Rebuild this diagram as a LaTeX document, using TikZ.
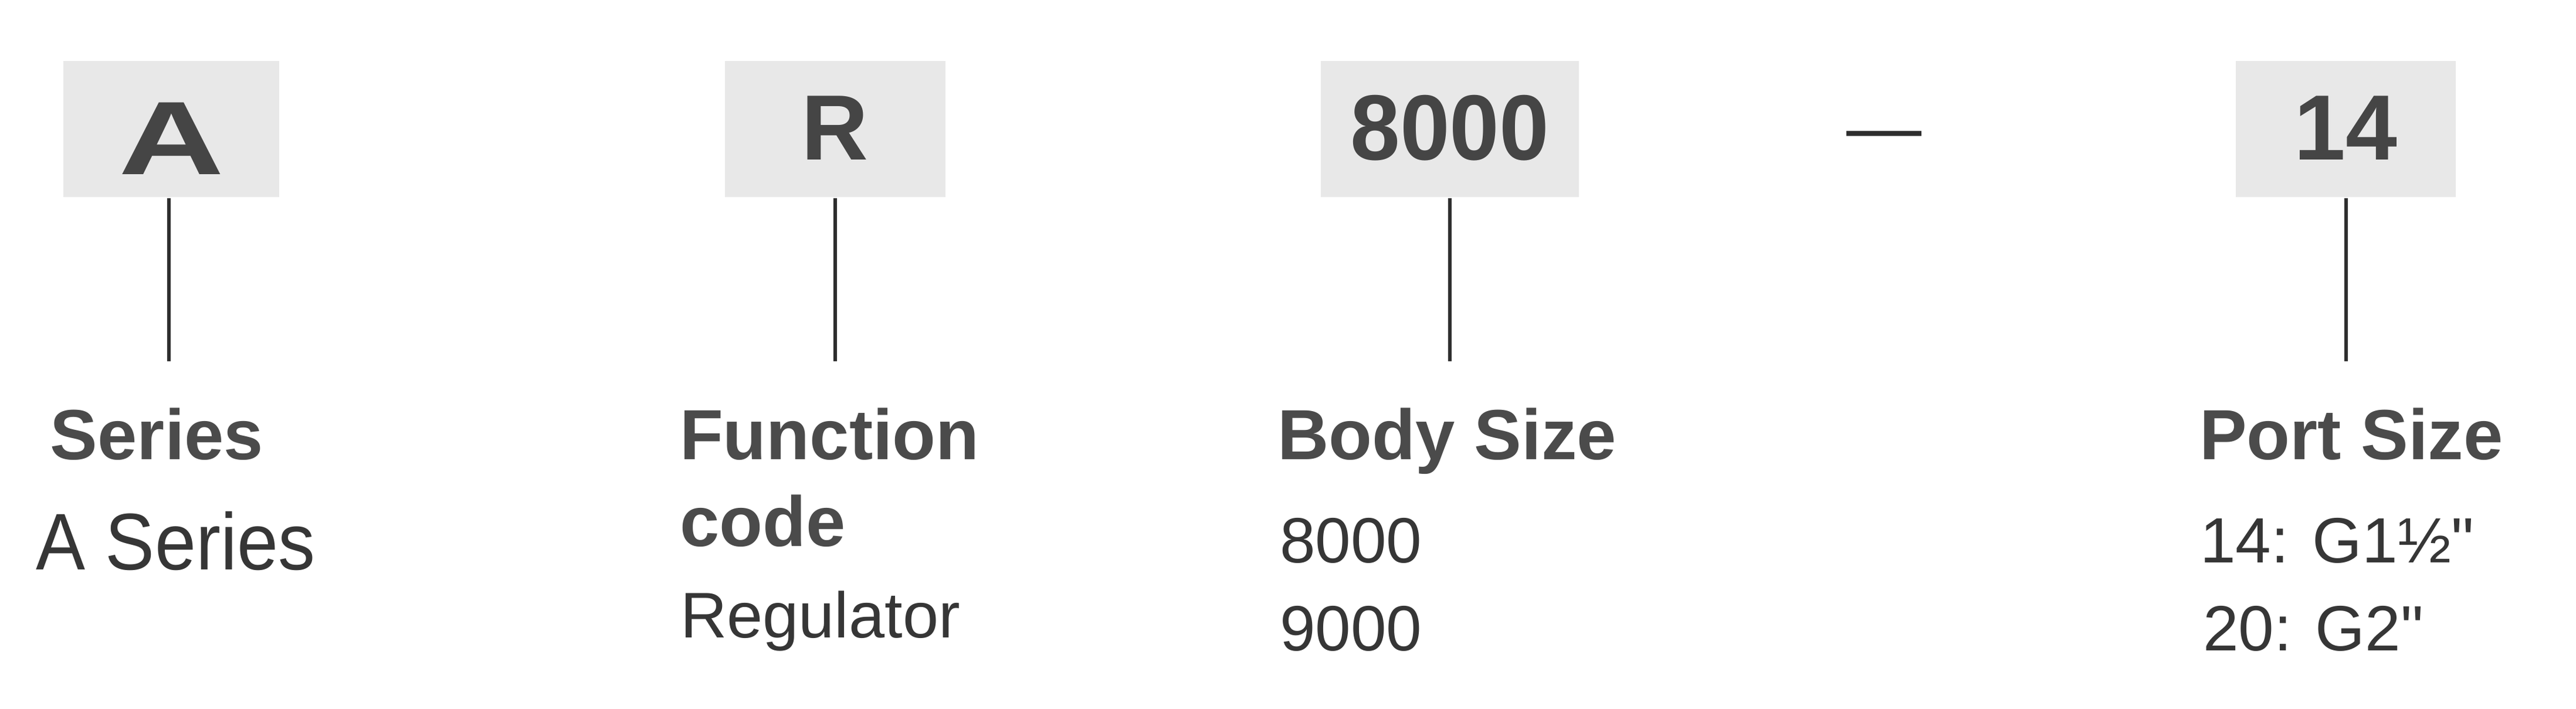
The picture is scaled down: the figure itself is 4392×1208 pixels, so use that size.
\documentclass[tikz,border=0pt]{standalone}
\usepackage{fontspec}
\setmainfont{Liberation Sans}[Ligatures=TeXOff]
\usepackage{graphicx}
\definecolor{boxgray}{HTML}{E8E8E8}
\definecolor{boxtext}{HTML}{454545}
\definecolor{headtext}{HTML}{4B4B4B}
\definecolor{valtext}{HTML}{363636}
\definecolor{stemcol}{HTML}{2E2E2E}
\begin{document}
\begin{tikzpicture}[x=0.1pt,y=-0.1pt,
  codebox/.style={fill=boxgray, draw=none, inner sep=0pt, minimum height=23.2pt,
    text height=11.6pt, text depth=1.2pt, text=boxtext,
    font=\fontsize{15.8}{18}\selectfont\bfseries},
  head/.style={anchor=base west, inner sep=0pt, text=headtext, align=left,
    font=\fontsize{12.1}{14.8}\selectfont\bfseries},
  val/.style={anchor=base west, inner sep=0pt, text=valtext,
    font=\fontsize{10.9}{15}\selectfont},
  stem/.style={line width=0.65pt, draw=stemcol}]
\useasboundingbox[fill=white] (0,0) rectangle (4392,1208);

% code boxes
\node[codebox, minimum width=36.8pt, text height=16pt, text depth=0.6pt,
      font=\fontsize{17.8}{20}\selectfont\bfseries] (bA) at (292,220)
      {\scalebox{1.4}[1]{A}\hspace{5.2pt}};
\node[codebox, minimum width=37.6pt] (bR) at (1424,220) {R};
\node[codebox, minimum width=44pt] (b8) at (2472,220) {\scalebox{0.965}[1]{8000}};
\node[codebox, minimum width=37.5pt] (b14) at (3999.5,220) {14\hspace{1.4pt}};

% separator dash
\node[anchor=base, inner sep=0pt, text=stemcol, font=\fontsize{12.8}{15}\selectfont] (dash) at (3212,260) {—};

% stems
\coordinate (eA) at (288,616);
\coordinate (eR) at (1424,616);
\coordinate (e8) at (2472,616);
\coordinate (e14) at (4000,616);
\draw[stem] (bA.south -| eA) -- (eA);
\draw[stem] (bR.south -| eR) -- (eR);
\draw[stem] (b8.south -| e8) -- (e8);
\draw[stem] (b14.south -| e14) -- (e14);

% headings
\node[head] (hS) at (84,783) {Series};
\node[head] (hF) at (1157,931) {Function\\code};
\node[head] (hB) at (2176,783) {Body Size};
\node[head] (hP) at (3748,783) {Port Size};

% values
\node[val, font=\fontsize{13.7}{16}\selectfont] (vS) at (59,971) {\scalebox{0.92}[1]{A Series}};
\node[val, font=\fontsize{11}{14}\selectfont] (vF) at (1158,1087) {Regulator};
\node[val] (vB1) at (2180,959) {8000};
\node[val] (vB2) at (2180,1109) {9000};
\node[val] (vP1) at (3749,959) {14: G1½"};
\node[val] (vP2) at (3754,1109) {20: G2"};
\end{tikzpicture}
\end{document}
